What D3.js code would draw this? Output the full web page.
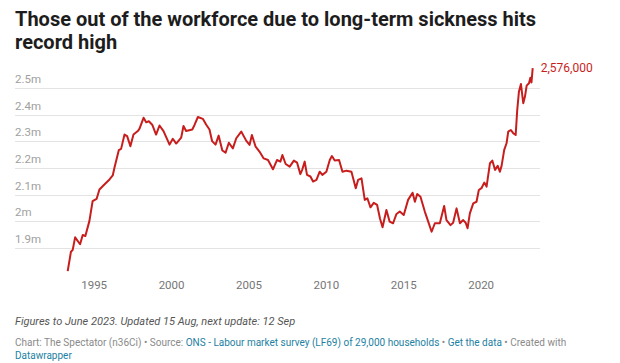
<!DOCTYPE html>
<html>
<head>
<meta charset="utf-8">
<script src="https://cdn.jsdelivr.net/npm/d3@7"></script>
<style>
  body { margin: 0; background: #fff; }
  svg { display: block; font-family: Roboto, sans-serif; }
</style>
</head>
<body>
<svg id="grafico"></svg>
<script>
"use strict"

// decimal years and values (millions)
const anos = [
  1993.29, 1993.50, 1993.61, 1993.77, 1994.09, 1994.26, 1994.43, 1994.69, 1994.90, 1995.16,
  1995.34, 1995.66, 1995.99, 1996.20, 1996.31, 1996.59, 1996.74, 1996.96, 1997.13, 1997.34,
  1997.54, 1997.82, 1997.93, 1998.19, 1998.36, 1998.53, 1998.75, 1999.00, 1999.22, 1999.48,
  1999.87, 2000.08, 2000.30, 2000.62, 2000.77, 2000.94, 2001.34, 2001.49, 2001.70, 2002.02,
  2002.24, 2002.45, 2002.62, 2002.84, 2003.04, 2003.28, 2003.49, 2003.70, 2003.96, 2004.18,
  2004.50, 2004.82, 2005.04, 2005.19, 2005.43, 2005.69, 2005.95, 2006.23, 2006.55, 2006.81,
  2007.03, 2007.16, 2007.37, 2007.63, 2007.90, 2008.11, 2008.32, 2008.45, 2008.60, 2008.75,
  2008.97, 2009.14, 2009.36, 2009.57, 2009.74, 2010.00, 2010.22, 2010.36, 2010.54, 2010.82,
  2011.04, 2011.30, 2011.62, 2011.90, 2012.05, 2012.27, 2012.48, 2012.65, 2012.85, 2013.06,
  2013.28, 2013.46, 2013.63, 2013.88, 2014.09, 2014.31, 2014.53, 2014.74, 2015.00, 2015.28,
  2015.57, 2015.72, 2015.87, 2016.08, 2016.36, 2016.58, 2016.80, 2017.01, 2017.33, 2017.61,
  2017.76, 2018.02, 2018.19, 2018.41, 2018.63, 2018.84, 2019.00, 2019.12, 2019.27, 2019.49,
  2019.70, 2019.85, 2020.02, 2020.20, 2020.35, 2020.57, 2020.72, 2020.90, 2021.07, 2021.21,
  2021.32, 2021.49, 2021.64, 2021.75, 2021.92, 2022.07, 2022.23, 2022.33, 2022.44, 2022.57,
  2022.72, 2022.83, 2022.94, 2023.09, 2023.18, 2023.25, 2023.33
];
const valores = [
  1.812, 1.885, 1.891, 1.939, 1.913, 1.948, 1.944, 2.000, 2.075, 2.084,
  2.119, 2.138, 2.157, 2.172, 2.201, 2.267, 2.272, 2.326, 2.320, 2.282,
  2.326, 2.339, 2.348, 2.389, 2.372, 2.376, 2.363, 2.326, 2.360, 2.339,
  2.288, 2.310, 2.292, 2.314, 2.358, 2.339, 2.345, 2.363, 2.392, 2.385,
  2.363, 2.345, 2.301, 2.288, 2.322, 2.266, 2.258, 2.295, 2.274, 2.312,
  2.337, 2.303, 2.287, 2.324, 2.280, 2.261, 2.236, 2.230, 2.195, 2.230,
  2.224, 2.249, 2.215, 2.205, 2.228, 2.220, 2.177, 2.195, 2.224, 2.174,
  2.168, 2.149, 2.155, 2.186, 2.174, 2.186, 2.230, 2.245, 2.228, 2.230,
  2.186, 2.190, 2.186, 2.124, 2.155, 2.161, 2.080, 2.086, 2.052, 2.069,
  2.061, 2.011, 1.977, 2.042, 1.998, 1.992, 2.027, 2.036, 2.023, 2.080,
  2.107, 2.073, 2.102, 2.092, 2.036, 1.998, 1.960, 1.992, 1.992, 2.057,
  2.004, 1.985, 1.994, 2.048, 1.992, 2.004, 1.994, 1.973, 2.029, 2.067,
  2.073, 2.117, 2.124, 2.145, 2.130, 2.218, 2.228, 2.193, 2.208, 2.186,
  2.208, 2.268, 2.293, 2.337, 2.343, 2.331, 2.324, 2.418, 2.487, 2.516,
  2.444, 2.469, 2.510, 2.519, 2.540, 2.522, 2.576
];
const ticksY = [1.9, 2.0, 2.1, 2.2, 2.3, 2.4, 2.5];
const rotulosY = ['1.9m', '2m', '2.1m', '2.2m', '2.3m', '2.4m', '2.5m'];
const ticksX = [1995, 2000, 2005, 2010, 2015, 2020];
const rotuloFinal = '2,576,000';

function iniciar(){
  const largura = 620;
  const altura = 363;
  const vermelho = '#c71e1d';

  const svg = d3.select('#grafico').attr('width', largura).attr('height', altura);

  // titulo
  const titulo = svg.append('text')
    .attr('x', 15).attr('y', 26)
    .attr('font-size', 20).attr('font-weight', 700).attr('fill', '#1d1d1d');
  titulo.append('tspan').attr('x', 15).attr('y', 26).text('Those out of the workforce due to long-term sickness hits');
  titulo.append('tspan').attr('x', 15).attr('y', 49).text('record high');

  const x = d3.scaleLinear()
              .domain([1993.29, 2023.33])
              .range([67.7, 532.7]);
  const y = d3.scaleLinear()
              .domain([1.9, 2.5])
              .range([247.7, 88.3]);

  // grade e rotulos do eixo y
  const grade = svg.append('g');
  grade.selectAll('line')
    .data(ticksY)
    .enter()
      .append('line')
      .attr('x1', 15).attr('x2', 540)
      .attr('y1', d => Math.round(y(d)) + 0.5)
      .attr('y2', d => Math.round(y(d)) + 0.5)
      .attr('stroke', '#e3e3e3').attr('stroke-width', 1);
  grade.selectAll('text')
    .data(ticksY)
    .enter()
      .append('text')
      .attr('x', 15)
      .attr('y', d => y(d) - 5)
      .attr('font-size', 11.5).attr('fill', '#a0a0a0')
      .text((d, i) => rotulosY[i]);

  // eixo x
  svg.append('g').selectAll('text')
    .data(ticksX)
    .enter()
      .append('text')
      .attr('x', d => x(d))
      .attr('y', 289)
      .attr('text-anchor', 'middle')
      .attr('font-size', 11.5).attr('fill', '#767676')
      .text(d => d);

  // linha
  const pontos = anos.map((a, i) => [a, valores[i]]);
  const linha = d3.line()
                  .x(d => x(d[0]))
                  .y(d => y(d[1]));
  svg.append('path')
    .datum(pontos)
    .attr('d', linha)
    .attr('fill', 'none')
    .attr('stroke', vermelho)
    .attr('stroke-width', 2)
    .attr('stroke-linejoin', 'round');

  const ultimo = pontos[pontos.length - 1];
  svg.append('text')
    .attr('x', x(ultimo[0]) + 8)
    .attr('y', y(ultimo[1]) + 4)
    .attr('font-size', 12).attr('fill', vermelho)
    .text(rotuloFinal);

  // rodape
  svg.append('text')
    .attr('x', 15).attr('y', 325)
    .attr('font-size', 11).attr('font-style', 'italic').attr('fill', '#555')
    .text('Figures to June 2023. Updated 15 Aug, next update: 12 Sep');

  const azul = '#1d81a2';
  const credito = svg.append('text')
    .attr('x', 15).attr('y', 346)
    .attr('font-size', 10).attr('fill', '#8a8a8a');
  credito.append('tspan').text('Chart: The Spectator (n36Ci) • Source: ');
  credito.append('tspan').attr('fill', azul).text('ONS - Labour market survey (LF69) of 29,000 households');
  credito.append('tspan').text(' • ');
  credito.append('tspan').attr('fill', azul).text('Get the data');
  credito.append('tspan').text(' • Created with');
  svg.append('text')
    .attr('x', 15).attr('y', 359)
    .attr('font-size', 10).attr('fill', azul)
    .text('Datawrapper');
}

window.addEventListener('load', iniciar, false);
</script>
</body>
</html>
